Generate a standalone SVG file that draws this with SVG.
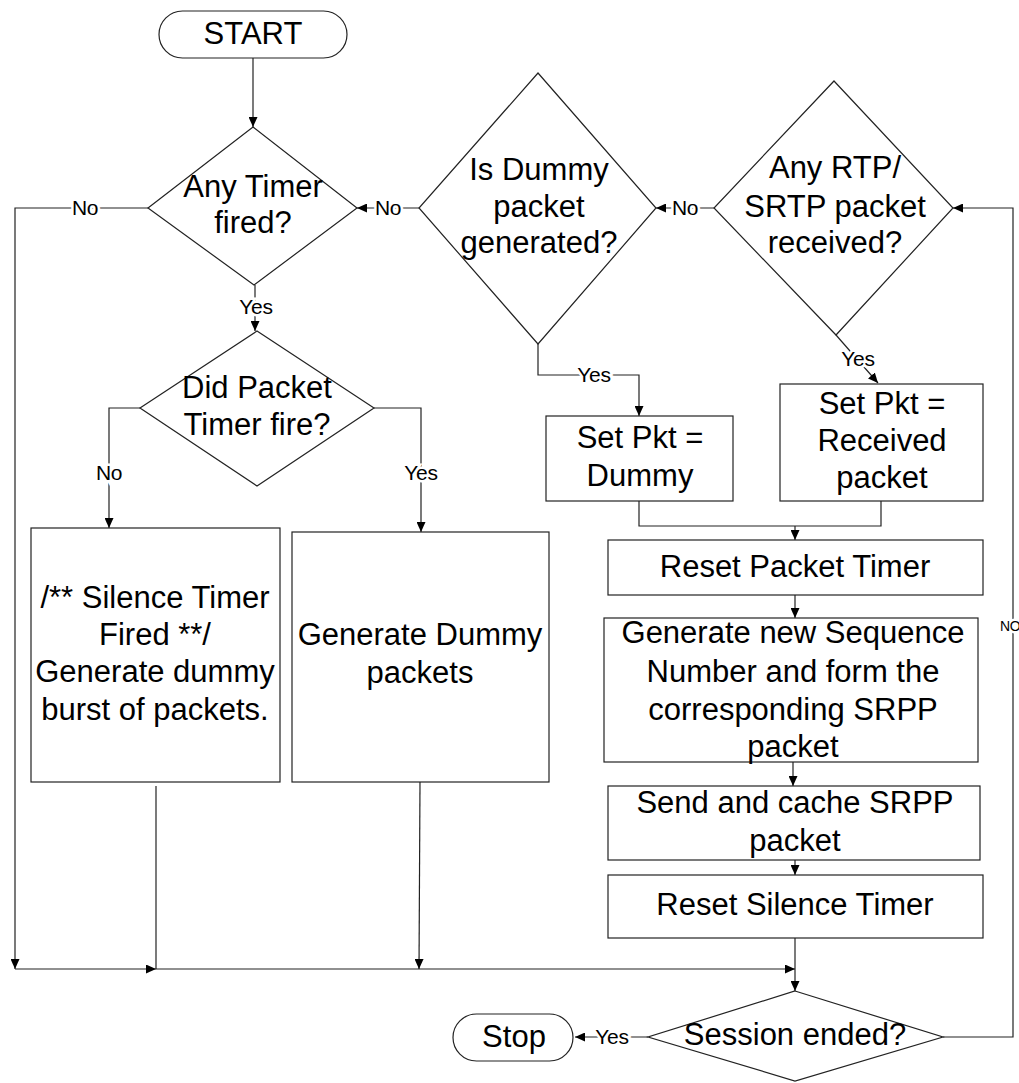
<svg xmlns="http://www.w3.org/2000/svg" width="1019" height="1083" viewBox="0 0 1019 1083">
  <style>
    .shape{fill:#fff;stroke:#222;stroke-width:1.2}
    .t{font-family:"Liberation Sans",Arial,Helvetica,sans-serif;font-size:31px;text-anchor:middle;fill:#000}
    .lbl{font-family:"Liberation Sans",Arial,Helvetica,sans-serif;font-size:21px;text-anchor:middle;fill:#000;stroke:#fff;stroke-width:5;paint-order:stroke;letter-spacing:-0.3px}
    .c{fill:none;stroke:#222;stroke-width:1.2}
  </style>
  <defs>
    <marker id="ah" markerWidth="10" markerHeight="9" refX="10" refY="4.5" orient="auto" markerUnits="userSpaceOnUse">
      <path d="M0,0 L10,4.5 L0,9 z" fill="#000"/>
    </marker>
  </defs>
  <rect width="1019" height="1083" fill="#fff"/>

  <!-- connectors -->
  <g id="connectors">
    <path class="c" d="M253,58 V127" marker-end="url(#ah)"/>
    <path class="c" d="M148,208 H15 V969" marker-end="url(#ah)"/>
    <path class="c" d="M15,969 H156" marker-end="url(#ah)"/>
    <path class="c" d="M156,969 H795" marker-end="url(#ah)"/>
    <path class="c" d="M156,786 V969"/>
    <path class="c" d="M420,782 L419,969" marker-end="url(#ah)"/>
    <path class="c" d="M255,285 V331" marker-end="url(#ah)"/>
    <path class="c" d="M140,408 H109 V528" marker-end="url(#ah)"/>
    <path class="c" d="M374,408 H421 V532" marker-end="url(#ah)"/>
    <path class="c" d="M419,208 H357" marker-end="url(#ah)"/>
    <path class="c" d="M714,208 H656" marker-end="url(#ah)"/>
    <path class="c" d="M538,344 V375 H639 V416" marker-end="url(#ah)"/>
    <path class="c" d="M836,335 L878,383" marker-end="url(#ah)"/>
    <path class="c" d="M639,501 V526 H881 V501"/>
    <path class="c" d="M795,526 V540" marker-end="url(#ah)"/>
    <path class="c" d="M795,595 V618" marker-end="url(#ah)"/>
    <path class="c" d="M793,762 V786" marker-end="url(#ah)"/>
    <path class="c" d="M795,860 V875" marker-end="url(#ah)"/>
    <path class="c" d="M795,938 V991" marker-end="url(#ah)"/>
    <path class="c" d="M648,1037 H575" marker-end="url(#ah)"/>
    <path class="c" d="M943,1037 H1013 V208 H953" marker-end="url(#ah)"/>

    <text class="lbl" x="85" y="215">No</text>
    <text class="lbl" x="256" y="314">Yes</text>
    <text class="lbl" x="109" y="480">No</text>
    <text class="lbl" x="421" y="480">Yes</text>
    <text class="lbl" x="388" y="215">No</text>
    <text class="lbl" x="685" y="215">No</text>
    <text class="lbl" x="594" y="382">Yes</text>
    <text class="lbl" x="858" y="366">Yes</text>
    <text class="lbl" x="612" y="1044">Yes</text>
    <text class="lbl" x="1000" y="631" style="text-anchor:start;font-size:14px">NO</text>
  </g>

  <!-- nodes -->
  <g id="start">
    <rect class="shape" x="159" y="11" width="188" height="47" rx="23.5"/>
    <text class="t" x="253" y="44">START</text>
  </g>
  <g id="any-timer">
    <polygon class="shape" points="253,127 357,208 254,285 148,208" style="fill:none"/>
    <text class="t" x="253" y="197">Any Timer</text>
    <text class="t" x="253" y="233">fired?</text>
  </g>
  <g id="did-packet-timer">
    <polygon class="shape" points="257,331 374,408 257,486 140,408" style="fill:none"/>
    <text class="t" x="257" y="398">Did Packet</text>
    <text class="t" x="257" y="435">Timer fire?</text>
  </g>
  <g id="is-dummy">
    <polygon class="shape" points="538,73 656,208 538,344 419,208" style="fill:none"/>
    <text class="t" x="539" y="180">Is Dummy</text>
    <text class="t" x="539" y="217">packet</text>
    <text class="t" x="539" y="253">generated?</text>
  </g>
  <g id="any-rtp">
    <polygon class="shape" points="834,81 953,208 836,335 714,208" style="fill:none"/>
    <text class="t" x="835" y="178">Any RTP/</text>
    <text class="t" x="835" y="217">SRTP packet</text>
    <text class="t" x="835" y="253">received?</text>
  </g>
  <g id="set-dummy">
    <rect class="shape" x="546" y="416" width="187" height="85"/>
    <text class="t" x="640" y="448">Set Pkt =</text>
    <text class="t" x="640" y="486">Dummy</text>
  </g>
  <g id="set-received">
    <rect class="shape" x="780" y="384" width="203" height="117"/>
    <text class="t" x="882" y="414">Set Pkt =</text>
    <text class="t" x="882" y="451">Received</text>
    <text class="t" x="882" y="488">packet</text>
  </g>
  <g id="silence-fired">
    <rect class="shape" x="31" y="528" width="249" height="254"/>
    <text class="t" x="155" y="608">/** Silence Timer</text>
    <text class="t" x="155" y="645">Fired **/</text>
    <text class="t" x="155" y="682">Generate dummy</text>
    <text class="t" x="155" y="720">burst of packets.</text>
  </g>
  <g id="gen-dummy">
    <rect class="shape" x="292" y="532" width="257" height="250"/>
    <text class="t" x="420" y="645">Generate Dummy</text>
    <text class="t" x="420" y="683">packets</text>
  </g>
  <g id="reset-packet-timer">
    <rect class="shape" x="608" y="540" width="375" height="55"/>
    <text class="t" x="795" y="577">Reset Packet Timer</text>
  </g>
  <g id="gen-seq">
    <rect class="shape" x="604" y="618" width="374" height="144"/>
    <text class="t" x="793" y="643">Generate new Sequence</text>
    <text class="t" x="793" y="682">Number and form the</text>
    <text class="t" x="793" y="720">corresponding SRPP</text>
    <text class="t" x="793" y="757">packet</text>
  </g>
  <g id="send-cache">
    <rect class="shape" x="608" y="786" width="372" height="74"/>
    <text class="t" x="795" y="813">Send and cache SRPP</text>
    <text class="t" x="795" y="851">packet</text>
  </g>
  <g id="reset-silence-timer">
    <rect class="shape" x="608" y="875" width="375" height="63"/>
    <text class="t" x="795" y="915">Reset Silence Timer</text>
  </g>
  <g id="session-ended">
    <polygon class="shape" points="795,991 943,1037 795,1081 648,1037" style="fill:none"/>
    <text class="t" x="795" y="1045">Session ended?</text>
  </g>
  <g id="stop">
    <rect class="shape" x="453" y="1014" width="120" height="47" rx="23.5"/>
    <text class="t" x="514" y="1047">Stop</text>
  </g>
</svg>
